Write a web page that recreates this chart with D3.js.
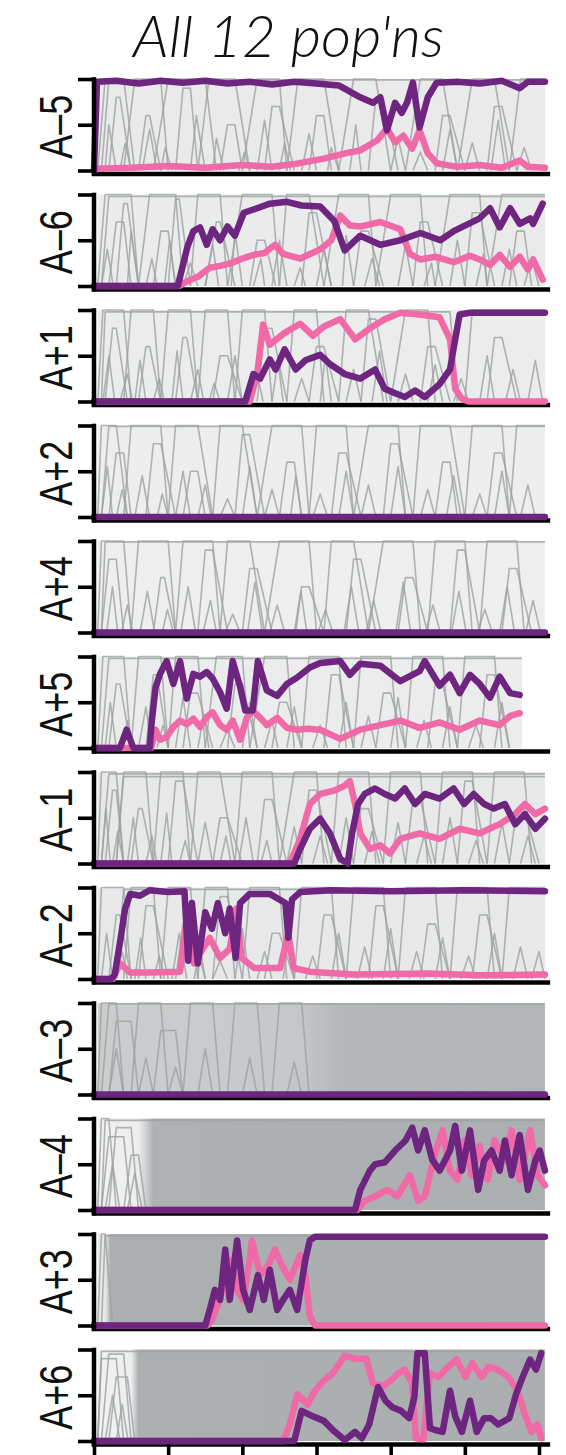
<!DOCTYPE html>
<html>
<head>
<meta charset="utf-8">
<script src="https://cdn.jsdelivr.net/npm/d3@7"></script>
<style>
  body { margin: 0; background: #fff; }
  svg { display: block; }
</style>
</head>
<body>
<svg id="chart" width="566" height="1455"></svg>
<script>
// Allele-frequency trajectories in the twelve LTEE populations.
// Times are in thousands of generations, frequencies run from 0 to 1.

const populations = ["A–5", "A–6", "A+1", "A+2", "A+4", "A+5", "A–1", "A–2", "A–3", "A–4", "A+3", "A+6"];
const generationTicks = [0, 10000, 20000, 30000, 40000, 50000, 60000];
const freqTicks = [0, 0.5, 1];

// first and last sampled time points (k generations) of each population
const sampleStart = [0.5, 0.5, 0.5, 0.5, 0.5, 0.5, 0.5, 0.5, 0.5, 0.5, 0.5, 0.5];
const sampleEnd = [60.8, 60.8, 60.8, 60.8, 60.8, 57.7, 60.8, 60.8, 60.8, 60.8, 60.8, 60.8];

// density of the background cloud of mutation trajectories: [k gen, opacity]
const cloudDensity = [
  [[0.5, 0.24], [60.8, 0.24]],
  [[0.5, 0.22], [60.8, 0.24]],
  [[0.5, 0.22], [60.8, 0.22]],
  [[0.5, 0.2], [60.8, 0.2]],
  [[0.5, 0.19], [60.8, 0.19]],
  [[0.5, 0.22], [57.7, 0.22]],
  [[0.5, 0.26], [60.8, 0.26]],
  [[0.5, 0.26], [60.8, 0.26]],
  [[0.5, 0.58], [15, 0.6], [28, 0.65], [33, 0.82], [60.8, 0.86]],
  [[0.5, 0.15], [6, 0.2], [8, 0.9], [60.8, 0.92]],
  [[0.5, 0.25], [1.6, 0.3], [2.2, 0.92], [60.8, 0.93]],
  [[0.5, 0.15], [5, 0.2], [6, 0.92], [60.8, 0.93]]
];

// background trajectories that fix or persist: [start, reach peak, leave peak, lost, peak freq]
// a "leave peak" of 99 means the allele is still present at the last sample
const backgroundSweeps = [
  [[0.5,1.5,4,5.5,1],[2,3,3.5,5,0.8],[4,5.5,9,10,1],[6,7,7.5,9,0.6],[8,10,15,16.5,1],[11,12,13,14,0.9],[14,15.5,19,21,1],[17,18,19,20,0.5],[20,22,25,26,1],[23,24,25,27,0.7],[26,27.5,31,33,1],[29,30,31,32,0.6],[33,35,38,40,1],[37,38,39,41,0.8],[42,44,47,49,1],[46,47,48,50,0.6],[49,51,54,56,1],[53,54,55,57,0.7],[56,57.5,99,99,1],[1,2,99,99,0.99]],
  [[0.5,1.5,5,6,1],[2,3,4,5,0.7],[3,4,4.5,6,0.9],[6,7.5,11,12,1],[8,9,10,11,0.6],[10,11,11.5,13,0.95],[13,14,17,18,1],[15,16.5,17,19,0.7],[18,20,24,25,1],[21,22,23,24.5,0.5],[25,26,29,31,1],[28,29,30,32,0.8],[31,33,37,38,1],[35,36,37,39,0.6],[38,40,44,45,1],[43,44,45,47,0.7],[46,48,52,53,1],[50,51,52,54,0.8],[53,55,99,99,1],[56,57,58,59,0.6],[1,2,99,99,0.98]],
  [[0.5,1.2,4,5,1],[1.5,2.5,3,4.5,0.8],[4,5,8,9,1],[6,7,7.5,9,0.6],[9,10,13,14,1],[11,12,12.5,14,0.7],[14,15,18,19,1],[16,17,18,20,0.5],[19,20,23,24,1],[22,23,24,26,0.8],[26,27,30,31,1],[29,30,31,33,0.6],[33,34,37,39,1],[36,37,38,40,0.9],[40,42,45,46,1],[44,45,46,48,0.6],[1,1.5,48,49,0.98],[50,51,99,99,1],[53,54,55,57,0.7]],
  [[0.5,1,3,4.5,1],[2,3,4,5,0.7],[4,5,9,10,1],[7,8,9,11,0.8],[10,11,14,16,1],[12,13,14,15,0.5],[16,17,20,22,1],[19,20,21,23,0.9],[22,24,28,29,1],[25,26,27,28,0.6],[29,30,34,35,1],[32,33,34,36,0.7],[35,37,41,42,1],[39,40,41,43,0.8],[43,44,48,50,1],[46,47,48,49,0.6],[50,51,55,56,1],[53,54,55,57,0.7],[56,57,99,99,1],[1,2,99,99,0.99]],
  [[0.5,1,4,5,1],[1,2,3,4,0.8],[5,6,10,11,1],[8,9,9.5,11,0.6],[11,12,16,17,1],[14,15,16,18,0.9],[17,18,21,23,1],[20,21,22,24,0.7],[23,25,29,30,1],[27,28,29,31,0.5],[31,32,35,37,1],[34,35,36,38,0.8],[37,39,43,44,1],[41,42,43,45,0.6],[45,46,50,51,1],[48,49,50,52,0.9],[52,53,57,58,1],[55,56,57,59,0.7],[1,1.5,99,99,0.99]],
  [[0.5,1.2,4,5,1],[2,3,3.5,5,0.7],[5,6,9,10,1],[7,8,8.5,10,0.8],[10,11,14,15,1],[12,13,14,16,0.6],[15,16.5,20,21,1],[18,19,20,22,0.7],[21,23,26,27,1],[24,25,26,28,0.5],[28,29,33,34,1],[31,32,33,35,0.8],[35,36,40,41,1],[38,39,40,42,0.6],[42,43,47,48,1],[45,46,47,49,0.7],[49,50,54,55,1],[52,53,54,56,0.8],[1,2,99,99,0.98]],
  [[0.5,1,3,4,1],[1.5,2.5,3,4,0.8],[3,4,7,8,1],[5,6,6.5,8,0.6],[8,9,12,13,1],[10,11,12,14,0.9],[13,14,17,19,1],[16,17,18,20,0.5],[19,20,24,25,1],[22,23,24,26,0.7],[25,27,30,31,1],[28,29,30,32,0.8],[32,33,37,38,1],[35,36,37,39,0.6],[39,40,44,45,1],[42,43,44,46,0.7],[46,47,51,52,1],[49,50,51,53,0.9],[53,54,58,59,1],[56,57,58,60,0.6],[1,2,99,99,0.98],[3,4,99,99,0.95]],
  [[0.5,1,4,5,1],[2,3,3.5,5,0.7],[4,5,8,9,1],[6,7,8,10,0.8],[9,10,13,14,1],[11,12,13,15,0.6],[14,15,18,19,1],[16,17,18,20,0.9],[20,21,25,26,1],[23,24,25,27,0.5],[27,28,32,33,1],[30,31,32,34,0.7],[34,35,39,40,1],[37,38,39,41,0.8],[41,42,46,47,1],[44,45,46,48,0.6],[48,49,53,54,1],[51,52,53,55,0.7],[55,56,99,99,1],[3,4,99,99,0.98]],
  [[0.5,1,3,4,1],[2,3,5,6,0.8],[5,6,9,10,1],[8,9,11,12,0.7],[1,2,99,99,0.99],[12,13,16,17,1],[18,19,22,23,1],[24,25,28,29,1]],
  [[0.5,1,2,3,1],[1,2,4,5,0.8],[2,3,5,6,0.9],[4,5,6,7,0.6],[1,1.5,99,99,0.98]],
  [[0.5,1,1.5,2.5,1],[1,1.5,99,99,0.98]],
  [[0.5,1,3,4,0.9],[1,2,4,5,0.95],[2,3,4.5,5.5,0.7],[0.5,1,99,99,0.98]]
];

// background trajectories that rise and are lost again: [start, peak time, lost, peak freq]
const transientSweeps = [
  [[1.5,2,3,0.5],[3.5,4.2,5,0.3],[6.5,7.5,8.5,0.45],[9,9.6,10.5,0.25],[13,13.8,15,0.6],[16,16.5,17.5,0.35],[19.5,20.3,21,0.2],[22,23,24,0.55],[25,25.7,26.5,0.3],[28,29,30,0.4],[31.5,32,33,0.25],[34.5,35.3,36,0.5],[40,41,42,0.35],[43,44,45,0.2],[47,48,49,0.45],[50,51,52,0.3],[53.5,54.5,55.5,0.55],[57,58,59,0.25]],
  [[1,1.8,2.6,0.4],[4.5,5,6,0.6],[7,7.8,8.5,0.3],[9.5,10.2,11,0.5],[12,13,14,0.25],[15,16,16.8,0.45],[18.5,19,20,0.6],[21.5,22.5,23,0.3],[24,25,26,0.5],[27,27.8,28.5,0.2],[30,31,32,0.4],[33.5,34,35,0.55],[36.5,37.5,38.5,0.3],[41,42,43,0.45],[44.5,45.5,46,0.25],[48,49,50,0.5],[51.5,52.5,53,0.35],[55,56,57,0.4],[58,59,60,0.3]],
  [[1.2,2,2.8,0.5],[3.5,4.5,5.2,0.3],[5.5,6.2,7,0.45],[8,8.8,9.5,0.25],[10.5,11.2,12,0.55],[13,14,14.8,0.35],[15.5,16.2,17,0.2],[18,19,20,0.5],[21,22,22.8,0.3],[24,24.8,25.5,0.45],[27,28,29,0.25],[30.5,31.2,32,0.5],[34,35,36,0.35],[37.5,38.5,39.5,0.55],[41,42,43,0.3],[45,46,47,0.4],[48.5,49.5,50.5,0.25],[52,53,54,0.5],[55.5,56.5,57.5,0.35],[58.5,59.5,60.5,0.45]],
  [[1,1.8,2.5,0.55],[3,3.8,4.5,0.3],[5.5,6.5,7.5,0.45],[8.5,9.2,10,0.25],[11,12,13,0.5],[14,15,15.8,0.35],[17,18,19,0.2],[20,21,22,0.55],[23,24,25,0.3],[26.5,27.2,28,0.45],[29.5,30.5,31.5,0.25],[33,34,35,0.5],[36,37,38,0.35],[40,41,42,0.55],[44,45,46,0.3],[47.5,48.5,49.5,0.45],[51,52,53,0.25],[54,55,56,0.5],[57.5,58.5,59.5,0.35]],
  [[1.7,2.5,3.2,0.5],[3.7,4.5,5.2,0.3],[6.2,7.2,8.2,0.45],[9.2,9.9,10.7,0.25],[11.7,12.7,13.7,0.5],[14.7,15.7,16.5,0.35],[17.7,18.7,19.7,0.2],[20.7,21.7,22.7,0.55],[23.7,24.7,25.7,0.3],[27.2,27.9,28.7,0.45],[30.2,31.2,32.2,0.25],[33.7,34.7,35.7,0.5],[36.7,37.7,38.7,0.35],[40.7,41.7,42.7,0.55],[44.7,45.7,46.7,0.3],[48.2,49.2,50.2,0.45],[51.7,52.7,53.7,0.25],[54.7,55.7,56.7,0.5],[58.2,59.2,60.2,0.35]],
  [[1.5,2.2,3,0.5],[3.8,4.5,5.2,0.3],[6,7,7.8,0.45],[8.5,9.3,10,0.25],[11,12,13,0.55],[14,14.8,15.5,0.35],[17,18,19,0.2],[20,21,22,0.5],[23,24,24.8,0.3],[26,27,28,0.45],[29.5,30.5,31.5,0.25],[33,34,35,0.5],[36,37,38,0.35],[40,41,42,0.55],[43.5,44.5,45.5,0.3],[47,48,49,0.45],[50.5,51.5,52.5,0.25],[54,55,56,0.5]],
  [[1,1.6,2.2,0.6],[2.5,3.2,4,0.35],[4.5,5.3,6,0.5],[7,7.8,8.5,0.3],[9,9.8,10.5,0.55],[11.5,12.3,13,0.25],[14,15,16,0.45],[17,17.8,18.5,0.3],[19.5,20.5,21.5,0.5],[22.5,23.3,24,0.25],[26,27,28,0.4],[29.5,30.5,31.5,0.3],[33,34,35,0.5],[36.5,37.5,38.5,0.35],[40,41,42,0.45],[43.5,44.5,45.5,0.3],[47,48,49,0.5],[50.5,51.5,52.5,0.25],[54,55,56,0.45],[57.5,58.5,59.5,0.3]],
  [[1,1.7,2.5,0.5],[3,3.8,4.5,0.3],[5.5,6.3,7,0.45],[8,8.8,9.5,0.25],[10.5,11.5,12.5,0.5],[13.5,14.3,15,0.35],[16,17,18,0.2],[19,20,21,0.55],[22,23,24,0.3],[25.5,26.3,27,0.45],[28.5,29.5,30.5,0.25],[32,33,34,0.5],[35.5,36.5,37.5,0.35],[39,40,41,0.55],[42.5,43.5,44.5,0.3],[46,47,48,0.45],[49.5,50.5,51.5,0.25],[53,54,55,0.5],[56.5,57.5,58.5,0.35],[59,60,60.8,0.3]],
  [[2,3,4,0.5],[6,7,8,0.4],[10,11,12,0.3],[14,15,16,0.5],[20,21,22,0.4],[26,27,28,0.35]],
  [[1.5,2.5,3.5,0.5],[4.5,5.5,6.5,0.4]],
  [],
  [[1.5,2.5,3.5,0.5],[3,3.8,4.6,0.4]]
];

// highlighted lineages: [k gen, frequency]
const purpleTracks = [
  [[0,0],[0.4,0.97],[3,0.98],[6,0.95],[9,0.98],[12,0.96],[15,0.98],[18,0.95],[21,0.97],[24,0.94],[27,0.97],[30,0.95],[33,0.93],[35.9,0.8],[37.6,0.74],[38.6,0.8],[39.5,0.44],[40.6,0.74],[41.5,0.63],[42.2,0.74],[43,0.96],[43.9,0.47],[45,0.8],[46.2,0.96],[49,0.97],[52,0.95],[55,0.98],[57.4,0.9],[58.5,0.97],[60.8,0.97]],
  [[0,0],[11.3,0],[12.6,0.43],[13.4,0.6],[14.3,0.64],[15.2,0.45],[16,0.62],[17,0.5],[18,0.65],[19,0.55],[20.2,0.8],[22,0.85],[23.7,0.9],[26,0.92],[28,0.88],[30.5,0.87],[32.4,0.71],[33.8,0.39],[35.9,0.55],[38.6,0.45],[41.3,0.5],[44,0.58],[46.7,0.5],[48.5,0.6],[52,0.74],[53.4,0.85],[54.7,0.64],[56.1,0.85],[57.4,0.68],[58.8,0.74],[59.2,0.68],[60.5,0.9]],
  [[0,0],[20.4,0],[21.5,0.3],[22.4,0.25],[23.7,0.46],[24.5,0.35],[25.7,0.57],[27.2,0.35],[28.5,0.45],[30.5,0.51],[31.8,0.41],[33.8,0.3],[35.9,0.25],[37.9,0.35],[39.2,0.14],[40.6,0.09],[41.9,0.05],[43.3,0.12],[44.6,0.05],[46.6,0.19],[48,0.35],[48.7,0.68],[49.3,0.95],[50.7,0.97],[60.8,0.97]],
  [[0,0],[60.8,0]],
  [[0,0],[60.8,0]],
  [[0,0],[3.5,0],[4.4,0.2],[5.3,0],[7.5,0],[7.8,0.3],[8.3,0.66],[8.9,0.81],[9.8,0.95],[10.7,0.7],[11.6,0.95],[12.5,0.54],[13.4,0.81],[14.3,0.78],[15.2,0.83],[16,0.76],[17,0.61],[17.9,0.43],[18.7,0.95],[19.7,0.67],[20.4,0.41],[21.4,0.41],[22.1,0.95],[23.3,0.63],[24.7,0.57],[26,0.7],[27.4,0.77],[29.1,0.88],[30.5,0.93],[33.2,0.95],[34.5,0.8],[35.9,0.92],[38.6,0.9],[41.3,0.73],[43.9,0.84],[44.6,0.95],[46.6,0.68],[48,0.8],[49.3,0.6],[50.7,0.8],[52,0.7],[53.4,0.55],[54.7,0.78],[56.1,0.6],[57.4,0.58]],
  [[0,0],[27,0],[27.8,0.16],[29.1,0.38],[30.5,0.49],[31.8,0.33],[33.2,0.05],[34.2,0],[34.8,0.33],[35.6,0.65],[36.5,0.76],[37.9,0.82],[39.2,0.76],[40.6,0.71],[41.9,0.82],[43.3,0.65],[44.6,0.76],[46.6,0.71],[48.5,0.82],[49.9,0.65],[51.2,0.76],[52.6,0.65],[53.9,0.6],[55.4,0.65],[56.8,0.43],[58.1,0.54],[59.5,0.38],[60.8,0.49]],
  [[0,0],[2.3,0],[2.8,0.05],[3.5,0.4],[4.2,0.77],[4.9,0.93],[6.2,0.91],[7.5,0.97],[10,0.95],[12.2,0.96],[12.7,0.2],[13.2,0.83],[14,0.17],[15,0.73],[15.9,0.55],[16.7,0.83],[17.7,0.5],[18.3,0.77],[19.1,0.23],[19.7,0.83],[21,0.93],[23.7,0.93],[25.8,0.83],[26.2,0.45],[26.7,0.87],[27.8,0.95],[32,0.97],[40,0.96],[50,0.97],[60.8,0.96]],
  [[0,0],[60.8,0]],
  [[0,0],[35.2,0],[35.9,0.22],[37.2,0.43],[37.9,0.5],[39.2,0.52],[40.6,0.65],[42,0.76],[42.9,0.9],[43.7,0.65],[44.6,0.87],[45.6,0.55],[46.6,0.43],[48,0.65],[48.7,0.92],[49.6,0.43],[50.7,0.87],[51.8,0.22],[52.6,0.54],[53.6,0.65],[54.7,0.43],[55.4,0.76],[56.3,0.38],[57.4,0.82],[58.5,0.22],[59.5,0.54],[60.1,0.65],[60.8,0.43]],
  [[0,0],[15,0],[15.6,0.17],[16.3,0.39],[17,0.28],[17.7,0.83],[18.3,0.28],[19.3,0.93],[20.1,0.39],[21,0.17],[22.1,0.55],[22.9,0.28],[23.7,0.61],[24.7,0.17],[25.5,0.28],[26.4,0.39],[27.4,0.17],[28.5,0.72],[29.1,0.93],[29.8,0.97],[60.8,0.97]],
  [[0,0],[27,0],[28,0.33],[29.5,0.27],[31,0.22],[32.2,0.12],[33.8,0.01],[35.2,0.1],[36.1,0.03],[37.1,0.18],[38.3,0.59],[39.3,0.44],[40.2,0.37],[41.4,0.33],[42.5,0.25],[43.2,0.48],[43.6,0.96],[44.6,0.96],[45.3,0.14],[46,0.12],[47,0.1],[48,0.55],[48.7,0.27],[49.6,0.1],[50.7,0.44],[51.6,0.1],[52.6,0.25],[53.5,0.25],[54.5,0.18],[56,0.25],[56.9,0.51],[57.8,0.7],[58.8,0.89],[59.6,0.78],[60.3,0.96]]
];

const pinkTracks = [
  [[0,0],[0.4,0.02],[5,0.03],[10,0.05],[15,0.03],[20,0.06],[24,0.04],[27,0.07],[31,0.13],[34,0.19],[35.9,0.22],[38.2,0.33],[39.5,0.46],[40.6,0.31],[41.7,0.38],[42.9,0.24],[43.9,0.44],[45,0.19],[46.2,0.08],[49,0.04],[52,0.06],[55,0.03],[57.4,0.11],[58.5,0.04],[60.8,0.03]],
  [[0,0],[11.5,0],[12.5,0.05],[14,0.1],[15.6,0.2],[17,0.22],[18.5,0.25],[20,0.3],[21.5,0.34],[23,0.36],[24.4,0.45],[25.5,0.35],[27.8,0.3],[30.5,0.4],[32,0.5],[33.2,0.77],[34.5,0.66],[36,0.65],[38.6,0.7],[41.3,0.62],[42.6,0.35],[44,0.29],[46,0.32],[48.5,0.26],[50.7,0.33],[52,0.29],[53.4,0.23],[54.7,0.34],[56.1,0.21],[57.4,0.32],[58.5,0.18],[59.2,0.29],[60.5,0.07]],
  [[0,0],[21,0],[22,0.3],[22.8,0.84],[23.7,0.62],[25.7,0.75],[27.8,0.85],[29.5,0.72],[31,0.82],[33.2,0.9],[35.2,0.68],[37.2,0.8],[39.2,0.9],[41.3,0.97],[43.9,0.95],[46.6,0.92],[48,0.68],[48.7,0.14],[49.6,0.03],[50.5,0],[60.8,0]],
  [],
  [],
  [[0,0],[7.7,0],[8.3,0.2],[8.9,0.09],[9.8,0.12],[10.7,0.23],[11.6,0.3],[12.5,0.26],[13.4,0.32],[14.3,0.23],[15.2,0.34],[16,0.39],[17,0.25],[17.9,0.2],[18.7,0.3],[19.7,0.09],[20.6,0.33],[21.4,0.41],[22.4,0.33],[23.3,0.25],[24.7,0.33],[26,0.22],[27.4,0.2],[28.8,0.21],[30.5,0.2],[33.2,0.1],[35.9,0.2],[38.6,0.25],[41.3,0.3],[43.9,0.22],[46.6,0.28],[49.3,0.2],[52,0.3],[54.7,0.25],[56.1,0.35],[57.4,0.38]],
  [[0,0],[26.4,0],[27.8,0.27],[29.1,0.65],[30.5,0.76],[32.5,0.8],[33.8,0.85],[34.5,0.9],[35.2,0.65],[35.9,0.33],[37.2,0.16],[38.6,0.2],[39.9,0.11],[41.3,0.27],[43.9,0.33],[46.6,0.27],[49.3,0.38],[52,0.33],[54.7,0.43],[56.8,0.54],[58.1,0.65],[59.5,0.54],[60.8,0.6]],
  [[0,0],[2.5,0],[3.5,0.17],[4.9,0.07],[7.5,0.07],[11.6,0.08],[12.7,0.77],[13.5,0.17],[14.3,0.28],[15.6,0.45],[17,0.23],[18.3,0.33],[19.2,0.77],[19.9,0.23],[21.6,0.12],[25.1,0.12],[26.2,0.5],[26.9,0.12],[29.1,0.08],[35,0.05],[45,0.06],[52,0.04],[60.8,0.05]],
  [],
  [[0,0],[35.5,0],[36.5,0.1],[37.9,0.15],[39.5,0.22],[40.9,0.15],[42.6,0.38],[43.7,0.1],[44.6,0.15],[46.1,0.65],[47,0.87],[48,0.43],[49,0.33],[50,0.76],[50.9,0.38],[52,0.7],[53.1,0.33],[54,0.76],[55.4,0.54],[56.3,0.87],[57.4,0.33],[58.8,0.87],[59.8,0.38],[60.8,0.27]],
  [[0,0],[15.3,0],[15.9,0.06],[16.9,0.28],[17.9,0.5],[18.6,0.72],[19.3,0.39],[20.1,0.28],[21,0.72],[21.3,0.93],[22.4,0.55],[23.5,0.66],[24.4,0.83],[25.3,0.66],[26.4,0.5],[27.8,0.77],[28.5,0.55],[29.1,0.1],[29.8,0],[60.8,0]],
  [[0,0],[25.5,0],[26.4,0.18],[27.4,0.51],[28.8,0.4],[29.8,0.55],[31,0.66],[32.2,0.74],[33.8,0.93],[35.2,0.9],[36.7,0.9],[37.6,0.63],[39.1,0.6],[40,0.66],[41,0.74],[41.9,0.78],[42.9,0.63],[43.4,0.03],[44.4,0.02],[45.3,0.74],[46.5,0.7],[47.7,0.81],[48.9,0.89],[50.1,0.7],[51,0.85],[52.3,0.7],[53.2,0.81],[54.4,0.78],[55.9,0.7],[57.1,0.55],[58.1,0.29],[59,0.1],[59.8,0.18],[60.3,0.03]]
];

// ---- drawing ----
const svg = d3.select("#chart");
const colors = { purple: "#6e2580", pink: "#ef6aa6", cloud: "#a5a8aa", trace: "#9ea1a3", ink: "#000" };

const panelTop0 = 79, panelStep = 115.5, panelHeight = 91.5;
const x = d3.scaleLinear().domain([0, 60000]).range([94, 539]);
const kx = k => x(k * 1000);

svg.append("text")
  .attr("x", 133).attr("y", 57)
  .attr("textLength", 311).attr("lengthAdjust", "spacingAndGlyphs")
  .style("font-family", "Lato, 'Open Sans', sans-serif")
  .style("font-style", "italic").style("font-weight", 300)
  .style("font-size", "58px").style("fill", "#111")
  .text("All 12 pop'ns");

const defs = svg.append("defs");

populations.forEach((pop, i) => {
  const top = panelTop0 + panelStep * i;
  const bottom = top + panelHeight;
  const y = d3.scaleLinear().domain([0, 1]).range([bottom, top]);
  const g = svg.append("g").attr("class", "panel");
  const end = sampleEnd[i], start = sampleStart[i];

  // x spine (thick baseline just below zero)
  g.append("line")
    .attr("x1", x(-300)).attr("x2", x(61500))
    .attr("y1", y(0) + 3.5).attr("y2", y(0) + 3.5)
    .attr("stroke", colors.ink).attr("stroke-width", 4.5);

  // cloud of background trajectories
  const grad = defs.append("linearGradient")
    .attr("id", "cloud" + i).attr("gradientUnits", "userSpaceOnUse")
    .attr("x1", kx(start)).attr("x2", kx(end)).attr("y1", 0).attr("y2", 0);
  cloudDensity[i].forEach(([k, o]) => {
    grad.append("stop").attr("offset", (k - start) / (end - start))
      .attr("stop-color", colors.cloud).attr("stop-opacity", o);
  });
  g.append("rect")
    .attr("x", kx(start)).attr("width", kx(end) - kx(start))
    .attr("y", y(1)).attr("height", y(0) - y(1))
    .attr("fill", `url(#cloud${i})`);

  const line = d3.line().x(d => kx(d[0])).y(d => y(d[1]));
  const traces = [];
  backgroundSweeps[i].forEach(([t0, t1, t2, t3, p]) => {
    const pts = [[t0, 0], [t1, p], [Math.min(t2, end), p]];
    if (t3 <= end) pts.push([t3, 0]);
    traces.push(pts);
  });
  transientSweeps[i].forEach(([t0, tp, t1, p]) => {
    traces.push([[t0, 0], [tp, p], [Math.min(t1, end), 0]]);
  });
  g.selectAll("path.trace").data(traces).join("path")
    .attr("class", "trace")
    .attr("d", line)
    .attr("fill", "none").attr("stroke", colors.trace)
    .attr("stroke-opacity", 0.8).attr("stroke-width", 1.6)
    .attr("stroke-linejoin", "round");

  // highlighted lineages
  [[pinkTracks[i], colors.pink], [purpleTracks[i], colors.purple]].forEach(([track, c]) => {
    if (!track.length) return;
    g.append("path").attr("d", line(track))
      .attr("fill", "none").attr("stroke", c)
      .attr("stroke-width", 6.5).attr("stroke-linejoin", "round").attr("stroke-linecap", "round");
  });

  // y axis: ticks at 0, 0.5, 1 without labels
  const yAxis = g.append("g").attr("transform", `translate(${x(0)},0)`)
    .call(d3.axisLeft(y).tickValues(freqTicks).tickSize(16).tickSizeOuter(0).tickFormat(""));
  yAxis.select(".domain").attr("stroke", colors.ink).attr("stroke-width", 4.5)
    .attr("d", `M0,${y(0) + 5.5}V${y(1) - 1.8}`);
  yAxis.selectAll(".tick line").attr("stroke", colors.ink).attr("stroke-width", 3.6);

  // population label
  g.append("text")
    .attr("transform", `translate(72,${(top + bottom) / 2 + 2}) scale(1.3,1) rotate(-90)`)
    .attr("text-anchor", "middle")
    .style("font-family", "'Liberation Sans', Arial, sans-serif")
    .style("font-size", "36px").style("fill", "#111")
    .text(pop);

  if (i === populations.length - 1) {
    const xAxis = g.append("g").attr("transform", `translate(0,${y(0) + 3.5})`)
      .call(d3.axisBottom(x).tickValues(generationTicks).tickSize(16).tickSizeOuter(0).tickFormat(""));
    xAxis.select(".domain").remove();
    xAxis.selectAll(".tick line").attr("stroke", colors.ink).attr("stroke-width", 3.6);
  }
});
</script>
</body>
</html>
